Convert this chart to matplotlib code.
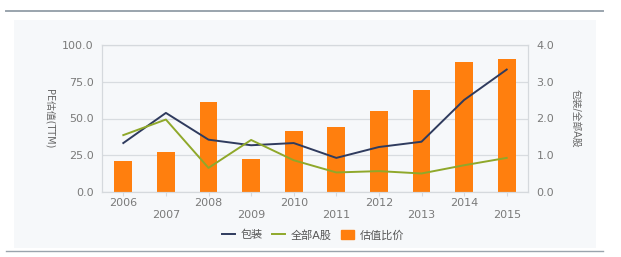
import numpy as np
import matplotlib.pyplot as plt
from matplotlib.patches import Rectangle
from matplotlib.lines import Line2D

plt.rcParams['font.family'] = ['DejaVu Sans', 'Noto Sans CJK SC']

# datos
years = ['2006', '2007', '2008', '2009', '2010', '2011', '2012', '2013', '2014', '2015']
baozhuang = [33.3, 53.8, 35.6, 31.8, 33.3, 23.2, 30.6, 34.2, 62.6, 83.3]   # 包装 PE
quanbu_a = [38.7, 49.3, 16.4, 35.4, 21.6, 13.3, 14.2, 12.6, 18.2, 23.2]    # 全部A股 PE
ratio = [0.85, 1.09, 2.46, 0.90, 1.66, 1.77, 2.20, 2.77, 3.54, 3.62]       # 估值比价

fig = plt.figure(figsize=(6.21, 2.57), dpi=100)
fig.patch.set_facecolor('white')

# marco de fondo
fig.patches.append(Rectangle((14 / 621, 1 - 248 / 257), 582 / 621, 228 / 257,
                             transform=fig.transFigure, facecolor='#f6f8fa',
                             edgecolor='none', zorder=-2))
fig.lines.append(Line2D([6 / 621, 603 / 621], [1 - 11 / 257, 1 - 11 / 257],
                        transform=fig.transFigure, color='#9aa4ad', lw=1.4))
fig.lines.append(Line2D([6 / 621, 603 / 621], [1 - 251 / 257, 1 - 251 / 257],
                        transform=fig.transFigure, color='#9aa4ad', lw=1.0))

ax = fig.add_axes([102 / 621, 1 - 192 / 257, 426 / 621, 147 / 257])
ax2 = ax.twinx()

x = np.arange(len(years))
ax2.bar(x, ratio, width=0.42, color='#ff7f0e', zorder=2)
ax.plot(x, baozhuang, color='#2f3b5e', lw=1.4, zorder=3)
ax.plot(x, quanbu_a, color='#8fa82a', lw=1.4, zorder=3)

ax.set_zorder(ax2.get_zorder() + 1)
ax.patch.set_visible(False)
ax2.patch.set_facecolor('#fcfdfe')

ax.set_xlim(-0.5, 9.5)
ax.set_ylim(0, 100)
ax2.set_ylim(0, 4)
ax.set_yticks([0, 25, 50, 75, 100])
ax.set_yticklabels(['0.0', '25.0', '50.0', '75.0', '100.0'])
ax2.set_yticks([0, 1, 2, 3, 4])
ax2.set_yticklabels(['0.0', '1.0', '2.0', '3.0', '4.0'])
ax.set_xticks(x)
ax.set_xticklabels([y if i % 2 == 0 else '\n' + y for i, y in enumerate(years)],
                   linespacing=1.25)

ax2.yaxis.grid(True, color='#d8dce0', lw=0.9)
ax2.set_axisbelow(True)

for a in (ax, ax2):
    for s in a.spines.values():
        s.set_color('#d5d9dd')
    a.tick_params(colors='#7a7a7a', labelsize=8, length=0, pad=6)
ax.tick_params(axis='x', length=3, color='#d5d9dd', pad=1)

ax.set_ylabel('PE估值(TTM)', rotation=270, color='#666666', fontsize=7)
ax2.set_ylabel('包装/全部A股', rotation=270, color='#666666', fontsize=7)
ax.yaxis.set_label_coords(-0.135, 0.5)
ax2.yaxis.set_label_coords(1.125, 0.5)

handles = [Line2D([], [], color='#2f3b5e', lw=1.4),
           Line2D([], [], color='#8fa82a', lw=1.4),
           Rectangle((0, 0), 1, 1, color='#ff7f0e')]
fig.legend(handles, ['包装', '全部A股', '估值比价'], loc='center',
           bbox_to_anchor=(313 / 621, 1 - 235 / 257), ncol=3, frameon=False,
           fontsize=8, handlelength=1.2, handleheight=0.8, columnspacing=0.8,
           handletextpad=0.5, labelcolor='#555555')

plt.savefig('out.png', dpi=100)
